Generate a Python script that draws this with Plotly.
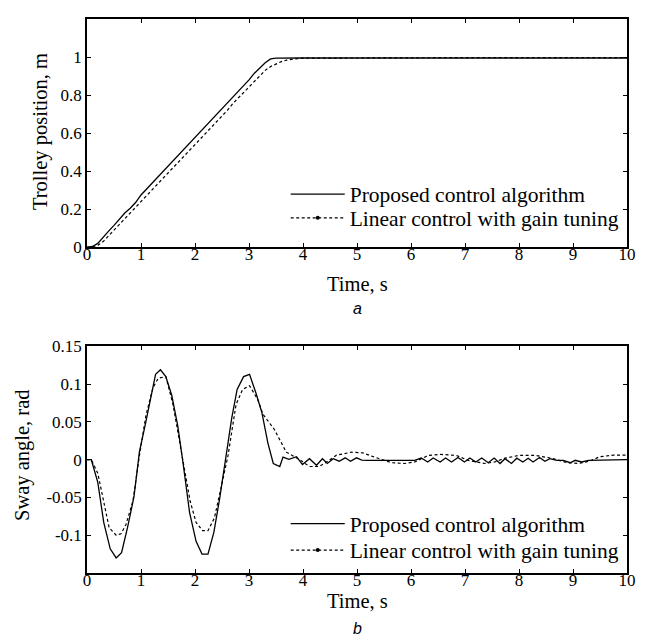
import plotly.graph_objects as go

# ---------------- data ----------------
# (a) Trolley position
t_pos_prop = [0, 0.1, 0.2, 0.3, 0.4, 0.5, 0.6, 0.7, 0.8, 0.9, 1.0, 1.1, 1.2, 1.3, 1.4, 1.5,
              1.6, 1.7, 1.8, 1.9, 2.0, 2.1, 2.2, 2.3, 2.4, 2.5, 2.6, 2.7, 2.8, 2.9, 3.0, 3.1,
              3.2, 3.3, 3.4, 3.5, 4.0, 5.0, 6.0, 7.0, 8.0, 9.0, 10.0]
pos_prop = [0.0, 0.004, 0.02, 0.055, 0.085, 0.115, 0.15, 0.18, 0.205, 0.235, 0.275, 0.305,
            0.335, 0.365, 0.395, 0.425, 0.46, 0.49, 0.515, 0.545, 0.575, 0.605, 0.635, 0.67,
            0.695, 0.73, 0.76, 0.79, 0.82, 0.85, 0.88, 0.915, 0.945, 0.97, 0.99, 0.994, 0.995,
            0.995, 0.995, 0.995, 0.995, 0.995, 0.995]

t_pos_lin = [0, 0.1, 0.2, 0.3, 0.4, 0.5, 0.6, 0.7, 0.8, 0.9, 1.0, 1.1, 1.2, 1.3, 1.4, 1.5,
             1.6, 1.7, 1.8, 1.9, 2.0, 2.1, 2.2, 2.3, 2.4, 2.5, 2.6, 2.7, 2.8, 2.9, 3.0, 3.1,
             3.2, 3.3, 3.4, 3.5, 3.6, 3.7, 3.8, 3.9, 4.0, 5.0, 6.0, 7.0, 8.0, 9.0, 10.0]
pos_lin = [0.0, 0.002, 0.01, 0.03, 0.06, 0.09, 0.12, 0.15, 0.18, 0.21, 0.235, 0.265, 0.295,
           0.325, 0.36, 0.39, 0.42, 0.45, 0.48, 0.51, 0.54, 0.57, 0.60, 0.63, 0.66, 0.69, 0.72,
           0.755, 0.785, 0.815, 0.845, 0.875, 0.905, 0.93, 0.95, 0.965, 0.976, 0.984, 0.989,
           0.992, 0.994, 0.996, 0.997, 0.997, 0.997, 0.997, 0.997]

# (b) Sway angle
t_sw_prop = [0, 0.08, 0.2, 0.31, 0.43, 0.54, 0.64, 0.75, 0.87, 0.97, 1.09, 1.19, 1.27, 1.36,
             1.46, 1.57, 1.68, 1.78, 1.9, 2.02, 2.13, 2.24, 2.35, 2.46, 2.58, 2.68, 2.78, 2.9,
             3.01, 3.13, 3.24, 3.35, 3.45, 3.57, 3.63, 3.74, 3.88, 3.99, 4.12, 4.25, 4.36,
             4.45, 4.56, 4.67, 4.78, 4.88, 4.99, 5.09, 5.21, 6.07, 6.19, 6.31, 6.41, 6.54,
             6.64, 6.75, 6.87, 6.99, 7.09, 7.2, 7.31, 7.43, 7.54, 7.65, 7.74, 7.86, 7.96, 8.07,
             8.17, 8.26, 8.38, 8.48, 8.57, 8.7, 8.82, 8.95, 9.04, 9.16, 9.29, 9.44, 9.56, 9.75,
             10.0]
sw_prop = [0.0, 0.0, -0.03, -0.083, -0.118, -0.13, -0.123, -0.09, -0.049, 0.01, 0.05, 0.085,
           0.113, 0.119, 0.11, 0.085, 0.045, -0.005, -0.07, -0.108, -0.125, -0.125, -0.096,
           -0.05, 0.008, 0.055, 0.093, 0.11, 0.113, 0.088, 0.062, 0.022, -0.005, -0.009,
           0.0035, 0.0005, 0.004, -0.0065, 0.0013, -0.0073, 0.0013, -0.005, 0.0013, -0.002,
           0.0025, -0.002, 0.0025, -0.0005, -0.001, -0.001, 0.0022, -0.003, 0.0022, -0.003,
           0.0022, -0.003, 0.003, -0.003, 0.0022, -0.003, 0.0022, -0.004, 0.0022, -0.005,
           0.0013, -0.005, 0.002, -0.003, 0.002, -0.003, 0.003, -0.002, 0.0013, -0.0008,
           -0.0008, -0.004, -0.0008, -0.003, -0.0008, -0.0008, 0.0, 0.0, 0.0]

t_sw_lin = [0, 0.08, 0.2, 0.29, 0.41, 0.54, 0.63, 0.72, 0.85, 0.97, 1.09, 1.22, 1.32, 1.46,
            1.59, 1.65, 1.77, 1.91, 2.02, 2.14, 2.24, 2.36, 2.48, 2.61, 2.76, 2.88, 3.01, 3.16,
            3.26, 3.47, 3.69, 3.94, 4.12, 4.3, 4.46, 4.62, 4.9, 5.11, 5.3, 5.64, 5.88, 6.07,
            6.32, 6.56, 6.84, 7.06, 7.37, 7.55, 7.74, 8.0, 8.3, 8.6, 8.9, 9.1, 9.3, 9.5, 9.75,
            10.0]
sw_lin = [0.0, 0.0, -0.018, -0.051, -0.09, -0.1, -0.098, -0.086, -0.055, 0.005, 0.058, 0.095,
          0.108, 0.11, 0.074, 0.05, 0.003, -0.055, -0.083, -0.094, -0.094, -0.077, -0.038,
          0.005, 0.073, 0.093, 0.098, 0.08, 0.06, 0.04, 0.01, 0.0, -0.009, -0.009, -0.002,
          0.006, 0.01, 0.009, 0.004, -0.004, -0.005, -0.003, 0.0057, 0.007, 0.0057, -0.001,
          -0.005, -0.003, 0.002, 0.0057, 0.0057, 0.002, -0.004, -0.005, -0.002, 0.004, 0.006,
          0.006]

x_ticks = [0, 1, 2, 3, 4, 5, 6, 7, 8, 9, 10]
x_ticktext = ["0", "1", "2", "3", "4", "5", "6", "7", "8", "9", "10"]
pos_ticks = [0, 0.2, 0.4, 0.6, 0.8, 1.0]
pos_ticktext = ["0", "0.2", "0.4", "0.6", "0.8", "1"]
sw_ticks = [-0.1, -0.05, 0, 0.05, 0.1, 0.15]
sw_ticktext = ["-0.1", "-0.05", "0", "0.05", "0.1", "0.15"]

name_prop = "Proposed control algorithm"
name_lin = "Linear control with gain tuning"

# ---------------- figure ----------------
SERIF = "Liberation Serif"
solid = dict(color="black", width=1.3)
dashed = dict(color="black", width=1.2, dash="3px,2.5px")

fig = go.Figure()
fig.add_trace(go.Scatter(x=t_pos_prop, y=pos_prop, mode="lines", line=solid,
                         showlegend=False, xaxis="x", yaxis="y"))
fig.add_trace(go.Scatter(x=t_pos_lin, y=pos_lin, mode="lines", line=dashed,
                         showlegend=False, xaxis="x", yaxis="y"))
fig.add_trace(go.Scatter(x=t_sw_prop, y=sw_prop, mode="lines", line=solid,
                         showlegend=False, xaxis="x2", yaxis="y2"))
fig.add_trace(go.Scatter(x=t_sw_lin, y=sw_lin, mode="lines", line=dashed,
                         showlegend=False, xaxis="x2", yaxis="y2"))

# legend entries (one legend box per entry so spacing can match)
entries = [("legend", "x", "y", name_prop, False),
           ("legend2", "x", "y", name_lin, True),
           ("legend3", "x2", "y2", name_prop, False),
           ("legend4", "x2", "y2", name_lin, True)]
for lg, xa, ya, nm, is_lin in entries:
    if is_lin:
        fig.add_trace(go.Scatter(x=[None], y=[None], mode="lines+markers", line=dashed,
                                 marker=dict(size=4, color="black"), name=nm,
                                 legend=lg, xaxis=xa, yaxis=ya))
    else:
        fig.add_trace(go.Scatter(x=[None], y=[None], mode="lines", line=solid, name=nm,
                                 legend=lg, xaxis=xa, yaxis=ya))

axis_common = dict(showline=True, linecolor="black", linewidth=1.6, mirror="ticks",
                   ticks="inside", ticklen=4, tickwidth=1, tickcolor="black",
                   showgrid=False, zeroline=False,
                   tickfont=dict(family=SERIF, size=17, color="black"))

leg_font = dict(family=SERIF, size=21.5, color="black")


def leg(y):
    return dict(x=0.368, y=y, xanchor="left", yanchor="middle", bgcolor="rgba(0,0,0,0)",
                font=leg_font, itemwidth=54, tracegroupgap=0)


fig.update_layout(
    width=650, height=644,
    margin=dict(l=87, r=23, t=10, b=71),
    paper_bgcolor="white", plot_bgcolor="white",
    font=dict(family=SERIF, color="black"),
    xaxis=dict(domain=[0, 1], anchor="y", range=[0, 10], tickvals=x_ticks,
               ticktext=x_ticktext, ticklabelstandoff=-9, **axis_common),
    yaxis=dict(domain=[0.588, 1], anchor="x", range=[0, 1.2], tickvals=pos_ticks,
               ticktext=pos_ticktext, **axis_common),
    xaxis2=dict(domain=[0, 1], anchor="y2", range=[0, 10], tickvals=x_ticks,
                ticktext=x_ticktext, ticklabelstandoff=-9, **axis_common),
    yaxis2=dict(domain=[0, 0.409], anchor="x2", range=[-0.15, 0.15], tickvals=sw_ticks,
                ticktext=sw_ticktext, **axis_common),
    legend=leg(0.684),
    legend2=leg(0.641),
    legend3=leg(0.0889),
    legend4=leg(0.0414),
)

title_font = dict(family=SERIF, size=20.5, color="black")
label_font = dict(family="Liberation Sans", size=16, color="black")
ann = [
    dict(text="Trolley position, m", x=-0.087, y=0.796, textangle=-90, font=title_font),
    dict(text="Time, s", x=0.5, y=0.522, font=title_font),
    dict(text="<i>a</i>", x=0.5, y=0.478, font=label_font),
    dict(text="Sway angle, rad", x=-0.1185, y=0.213, textangle=-90, font=title_font),
    dict(text="Time, s", x=0.5, y=-0.051, font=title_font),
    dict(text="<i>b</i>", x=0.5, y=-0.0995, font=label_font),
]
for a in ann:
    fig.add_annotation(xref="paper", yref="paper", showarrow=False,
                       xanchor="center", yanchor="middle", **a)

fig.write_html("out.html")
